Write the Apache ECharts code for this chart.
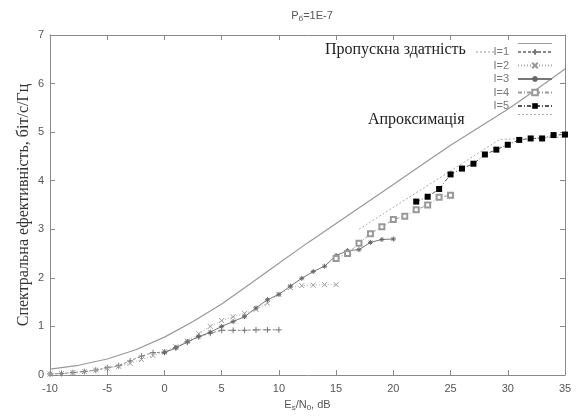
<!DOCTYPE html>
<html lang="uk">
<head>
    <meta charset="UTF-8">
    <title>Спектральна ефективність</title>
    <script src="https://cdn.jsdelivr.net/npm/echarts@6/dist/echarts.min.js"></script>
    <style>
        body { margin: 0; background: #fff; }
        #main { width: 577px; height: 417px; }
    </style>
</head>
<body>
<div id="main"></div>
<script>
    // пропускна здатність
    var capX = [-10, -7.5, -5, -2.5, 0, 2.5, 5, 7.5, 10, 12.5, 15, 17.5, 20, 22.5, 25, 27.5, 30, 32.5, 35];
    var capY = [0.12, 0.2, 0.33, 0.52, 0.78, 1.1, 1.46, 1.88, 2.3, 2.72, 3.12, 3.52, 3.92, 4.33, 4.73, 5.1, 5.47, 5.88, 6.3];

    // I=1 .. I=5
    var i1X = [-10, -9, -8, -7, -6, -5, -4, -3, -2, -1, 0, 1, 2, 3, 4, 5, 6, 7, 8, 9, 10];
    var i1Y = [0.02, 0.03, 0.05, 0.07, 0.1, 0.15, 0.19, 0.29, 0.39, 0.46, 0.47, 0.56, 0.68, 0.79, 0.86, 0.92, 0.92, 0.92, 0.93, 0.93, 0.93];

    var i2X = [-10, -9, -8, -7, -6, -5, -4, -3, -2, -1, 0, 1, 2, 3, 4, 5, 6, 7, 8, 9, 10, 11, 12, 13, 14, 15];
    var i2Y = [0.02, 0.03, 0.05, 0.07, 0.1, 0.14, 0.18, 0.24, 0.32, 0.4, 0.48, 0.58, 0.7, 0.85, 1.0, 1.12, 1.2, 1.27, 1.35, 1.48, 1.66, 1.8, 1.84, 1.85, 1.86, 1.86];

    var i3X = [0, 1, 2, 3, 4, 5, 6, 7, 8, 9, 10, 11, 12, 13, 14, 15, 16, 17, 18, 19, 20];
    var i3Y = [0.46, 0.56, 0.68, 0.79, 0.88, 1.0, 1.1, 1.2, 1.38, 1.55, 1.66, 1.83, 1.99, 2.13, 2.24, 2.46, 2.56, 2.58, 2.73, 2.79, 2.8];

    var i4X = [15, 16, 17, 18, 19, 20, 21, 22, 23, 24, 25];
    var i4Y = [2.4, 2.5, 2.71, 2.91, 3.05, 3.2, 3.27, 3.4, 3.5, 3.66, 3.7];

    var i5X = [22, 23, 24, 25, 26, 27, 28, 29, 30, 31, 32, 33, 34, 35];
    var i5Y = [3.57, 3.67, 3.83, 4.13, 4.25, 4.35, 4.54, 4.64, 4.74, 4.84, 4.87, 4.87, 4.94, 4.95];

    // апроксимація
    var apX = [17, 29.3, 35];
    var apY = [3.0, 4.85, 4.9];

    var xTicks = [-10, 35, 5];
    var yTicks = [0, 7, 1];

    function pairs(xs, ys) {
        var out = [];
        for (var i = 0; i < xs.length; i++) out.push([xs[i], ys[i]]);
        return out;
    }

    var plusSym = 'path://M0,5L10,5M5,0L5,10';
    var crossSym = 'path://M0,0L10,10M10,0L0,10';
    var starSym = 'path://M0,5L10,5M5,0L5,10M1.5,1.5L8.5,8.5M8.5,1.5L1.5,8.5';
    var lineIcon = 'path://M0,0H34V1H0Z';
    var dotIcon = 'path://M0,0H2V1H0ZM4,0H6V1H4ZM8,0H10V1H8ZM12,0H14V1H12ZM16,0H18V1H16ZM20,0H22V1H20ZM24,0H26V1H24ZM28,0H30V1H28ZM32,0H34V1H32Z';

    var axisGray = '#8a8a8a';
    var labelStyle = { color: '#555', fontSize: 11, fontFamily: 'Liberation Sans, Arial, sans-serif' };

    var myChart = echarts.init(document.getElementById('main'));
    myChart.setOption({
        animation: false,
        title: {
            text: 'P{s|б}=1E-7',
            left: 307, top: 4, textAlign: 'center',
            textStyle: {
                fontSize: 11, fontWeight: 'normal', color: '#555', fontFamily: 'Liberation Sans, Arial, sans-serif',
                rich: { s: { fontSize: 8, verticalAlign: 'bottom', padding: [6, 0, 0, 0], color: '#555' } }
            }
        },
        grid: { left: 50, right: 12, top: 35, bottom: 36 },
        legend: {
            orient: 'vertical', right: 19, top: 38, align: 'right',
            itemWidth: 34, itemHeight: 7, itemGap: 2.5,
            textStyle: { fontSize: 11, color: '#777', lineHeight: 9, fontFamily: 'Liberation Sans, Arial, sans-serif', padding: [0, 4, 0, 0] },
            formatter: function (n) { return (n === 'Пропускна здатність' || n === 'Апроксимація') ? '' : n; },
            data: [{ name: 'Пропускна здатність', icon: lineIcon }, 'I=1', 'I=2', 'I=3', 'I=4', 'I=5', { name: 'Апроксимація', icon: dotIcon }]
        },
        xAxis: [{
            type: 'value', min: xTicks[0], max: xTicks[1], interval: xTicks[2],
            name: 'E{s|s}/N{s|0}, dB', nameLocation: 'middle', nameGap: 23,
            nameTextStyle: {
                color: '#555', fontSize: 11, fontFamily: 'Liberation Sans, Arial, sans-serif',
                rich: { s: { fontSize: 8, verticalAlign: 'bottom', padding: [6, 0, 0, 0], color: '#555' } }
            },
            axisLine: { onZero: false, lineStyle: { color: axisGray } },
            axisTick: { inside: true, length: 5, lineStyle: { color: axisGray } },
            axisLabel: labelStyle,
            splitLine: { show: false }
        }, {
            type: 'value', position: 'top', min: xTicks[0], max: xTicks[1], interval: xTicks[2],
            axisLine: { onZero: false, lineStyle: { color: axisGray } },
            axisTick: { inside: true, length: 5, lineStyle: { color: axisGray } },
            axisLabel: { show: false }, splitLine: { show: false }
        }],
        yAxis: [{
            type: 'value', min: yTicks[0], max: yTicks[1], interval: yTicks[2],
            name: 'Спектральна ефективність, біт/с/Гц', nameLocation: 'middle', nameGap: 18,
            nameMoveOverlap: false,
            nameTextStyle: { color: '#333', fontSize: 16, fontFamily: 'Liberation Serif, Times New Roman, serif' },
            axisLine: { show: true, onZero: false, lineStyle: { color: axisGray } },
            axisTick: { show: true, inside: true, length: 5, lineStyle: { color: axisGray } },
            axisLabel: Object.assign({ margin: 6 }, labelStyle),
            splitLine: { show: false }
        }, {
            type: 'value', position: 'right', min: yTicks[0], max: yTicks[1], interval: yTicks[2],
            axisLine: { show: true, onZero: false, lineStyle: { color: axisGray } },
            axisTick: { show: true, inside: true, length: 5, lineStyle: { color: axisGray } },
            axisLabel: { show: false }, splitLine: { show: false }
        }],
        graphic: [{
            type: 'text', left: 325, top: 42,
            style: { text: 'Пропускна здатність', fill: '#222', font: '16px "Liberation Serif", serif' }
        }, {
            type: 'line', shape: { x1: 476, y1: 52, x2: 495, y2: 52 },
            style: { stroke: '#999', lineWidth: 1, lineDash: [2, 2] }
        }, {
            type: 'text', left: 368, top: 112,
            style: { text: 'Апроксимація', fill: '#222', font: '16px "Liberation Serif", serif' }
        }],
        series: [{
            name: 'Пропускна здатність', type: 'line', showSymbol: false, symbol: 'none',
            data: pairs(capX, capY), lineStyle: { color: '#999', width: 1.2 }, itemStyle: { color: '#999' }
        }, {
            name: 'I=1', type: 'line', data: pairs(i1X, i1Y),
            symbol: plusSym, symbolSize: 6,
            lineStyle: { color: '#888', width: 1, type: [3, 2] },
            itemStyle: { color: 'transparent', borderColor: '#777', borderWidth: 1 }
        }, {
            name: 'I=2', type: 'line', data: pairs(i2X, i2Y),
            symbol: crossSym, symbolSize: 5,
            lineStyle: { color: '#aaa', width: 1, type: [1, 2] },
            itemStyle: { color: 'transparent', borderColor: '#999', borderWidth: 1 }
        }, {
            name: 'I=3', type: 'line', data: pairs(i3X, i3Y),
            symbol: starSym, symbolSize: 5,
            lineStyle: { color: '#777', width: 1 },
            itemStyle: { color: 'transparent', borderColor: '#666', borderWidth: 1 }
        }, {
            name: 'I=4', type: 'line', data: pairs(i4X, i4Y),
            symbol: 'emptyRect', symbolSize: 5,
            lineStyle: { color: '#999', width: 1, type: [4, 2, 1, 2] },
            itemStyle: { color: '#999', borderWidth: 1 }
        }, {
            name: 'I=5', type: 'line', data: pairs(i5X, i5Y),
            symbol: 'rect', symbolSize: 6,
            lineStyle: { color: '#555', width: 1, type: [4, 2, 1, 2] },
            itemStyle: { color: '#000' }
        }, {
            name: 'Апроксимація', type: 'line', data: pairs(apX, apY), symbol: 'none',
            lineStyle: { color: '#aaa', width: 1, type: [2, 2] }, itemStyle: { color: '#aaa' }
        }]
    });
</script>
</body>
</html>
